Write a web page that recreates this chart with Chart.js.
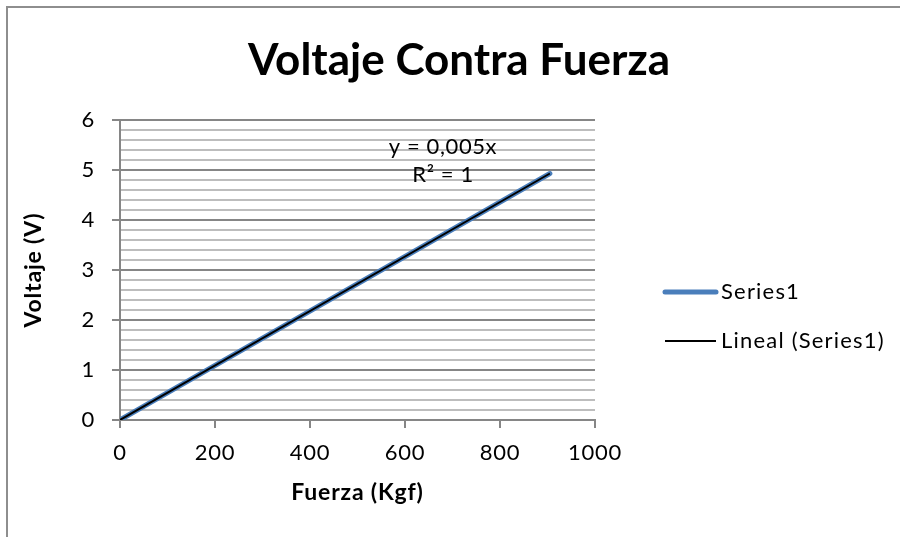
<!DOCTYPE html>
<html>
<head>
<meta charset="utf-8">
<script src="https://cdn.jsdelivr.net/npm/chart.js@4"></script>
<style>
  html, body { margin: 0; padding: 0; background: #fff; overflow: hidden; }
  #frame { position: absolute; left: 6px; top: 6px; width: 1000px; height: 700px;
           border-left: 2px solid #8e8e8e; border-top: 2px solid #8e8e8e; }
  #wrap { position: absolute; left: 0; top: 0; width: 900px; height: 537px; }
</style>
</head>
<body>
<div id="frame"></div>
<div id="wrap"><canvas id="c" width="900" height="537"></canvas></div>
<script>
// Calibration readings: applied force (kgf) and sensor output (V)
const fuerza  = [0, 905];
const voltaje = [0, 4.93];

const seriesLabel = 'Series1';
const trendLabel  = 'Lineal (Series1)';
const chartTitle  = 'Voltaje Contra Fuerza';
const xTitle      = 'Fuerza (Kgf)';
const yTitle      = 'Voltaje (V)';

const xMin = 0, xMax = 1000, xStep = 200;
const yMin = 0, yMax = 6, yMinorStep = 0.2;

// Linear trendline forced through the origin (least squares)
let sxy = 0, sxx = 0, syy = 0;
for (let i = 0; i < fuerza.length; i++) {
  sxy += fuerza[i] * voltaje[i];
  sxx += fuerza[i] * fuerza[i];
  syy += voltaje[i] * voltaje[i];
}
const slope = sxy / sxx;
let ssRes = 0;
for (let i = 0; i < fuerza.length; i++) {
  const r = voltaje[i] - slope * fuerza[i];
  ssRes += r * r;
}
const r2 = 1 - ssRes / syy;
const trendX = [fuerza[0], fuerza[fuerza.length - 1]];
const trendPts = trendX.map(x => ({ x: x, y: slope * x }));

const eqText = 'y = ' + slope.toFixed(3).replace('.', ',') + 'x';
const r2Text = 'R² = ' + String(Math.round(r2 * 10000) / 10000).replace('.', ',');

const FONT = 'Lato';
const AXIS_GREY = '#868686';
const MINOR_GREY = '#bdbdbd';
const isMajor = v => Math.abs(v - Math.round(v)) < 1e-6;

// Slightly wider tracking for axis text
const tracking = {
  id: 'tracking',
  beforeDraw(chart) { chart.ctx.letterSpacing = '0.8px'; }
};

// Title, equation label and legend drawn on top of the plot
const annotate = {
  id: 'annotate',
  afterDraw(chart) {
    const { ctx, scales } = chart;
    ctx.save();
    ctx.fillStyle = '#000';

    ctx.letterSpacing = '0px';
    ctx.font = 'bold 44px ' + FONT;
    ctx.textAlign = 'center';
    ctx.textBaseline = 'alphabetic';
    ctx.fillText(chartTitle, 459, 75);

    ctx.letterSpacing = '0.6px';
    ctx.font = '22px ' + FONT;
    ctx.textBaseline = 'middle';
    const ex = scales.x.getPixelForValue(680);
    ctx.fillText(eqText, ex, scales.y.getPixelForValue(5.46));
    ctx.fillText(r2Text, ex, scales.y.getPixelForValue(4.9));

    // legend, in dataset order
    ctx.letterSpacing = '1.2px';
    const items = [chart.data.datasets[1], chart.data.datasets[0]];
    const rows = [292, 341];
    ctx.textAlign = 'left';
    items.forEach((ds, i) => {
      ctx.beginPath();
      ctx.strokeStyle = ds.borderColor;
      ctx.lineWidth = ds.legendWidth;
      ctx.lineCap = ds.borderCapStyle || 'butt';
      ctx.moveTo(665, rows[i]);
      ctx.lineTo(716, rows[i]);
      ctx.stroke();
      ctx.fillText(ds.label, 721, rows[i]);
    });
    ctx.restore();
  }
};

new Chart(document.getElementById('c'), {
  type: 'line',
  data: {
    datasets: [
      {
        label: trendLabel,
        data: trendPts,
        borderColor: '#000000',
        borderWidth: 2,
        legendWidth: 2,
        pointRadius: 0,
        order: 0
      },
      {
        label: seriesLabel,
        data: fuerza.map((x, i) => ({ x: x, y: voltaje[i] })),
        borderColor: '#4A7EBB',
        borderWidth: 5,
        legendWidth: 5,
        borderCapStyle: 'round',
        pointRadius: 0,
        order: 1
      }
    ]
  },
  options: {
    responsive: false,
    animation: false,
    events: [],
    layout: { padding: { left: 8, right: 305, top: 120, bottom: 10 } },
    plugins: {
      legend: { display: false },
      tooltip: { enabled: false },
      title: { display: false }
    },
    scales: {
      x: {
        type: 'linear',
        min: xMin, max: xMax,
        afterFit: s => { s.height = 537 - 10 - 420; },
        ticks: { stepSize: xStep, color: '#000', font: { family: FONT, size: 22 }, padding: 12, maxRotation: 0,
                 callback: v => String(v) },
        grid: { drawOnChartArea: false, drawTicks: true, tickLength: 8, color: AXIS_GREY, lineWidth: 2 },
        border: { color: AXIS_GREY, width: 2 },
        title: { display: true, text: xTitle, color: '#000',
                 font: { family: FONT, size: 23, weight: 'bold' }, padding: { top: 4, bottom: 21 } }
      },
      y: {
        type: 'linear',
        min: yMin, max: yMax,
        afterFit: s => { s.width = 120 - 8; },
        ticks: {
          stepSize: yMinorStep, autoSkip: false, color: '#000',
          font: { family: FONT, size: 22 }, padding: 17,
          callback: v => isMajor(v) ? String(Math.round(v)) : ''
        },
        grid: {
          drawTicks: true, tickLength: 8, lineWidth: 2,
          color: c => isMajor(c.tick.value) ? AXIS_GREY : MINOR_GREY,
          tickColor: c => isMajor(c.tick.value) ? AXIS_GREY : 'rgba(0,0,0,0)'
        },
        border: { color: AXIS_GREY, width: 2 },
        title: { display: true, text: yTitle, color: '#000',
                 font: { family: FONT, size: 23, weight: 'bold' }, padding: { top: 12, bottom: 4 } }
      }
    }
  },
  plugins: [tracking, annotate]
});
</script>
</body>
</html>
